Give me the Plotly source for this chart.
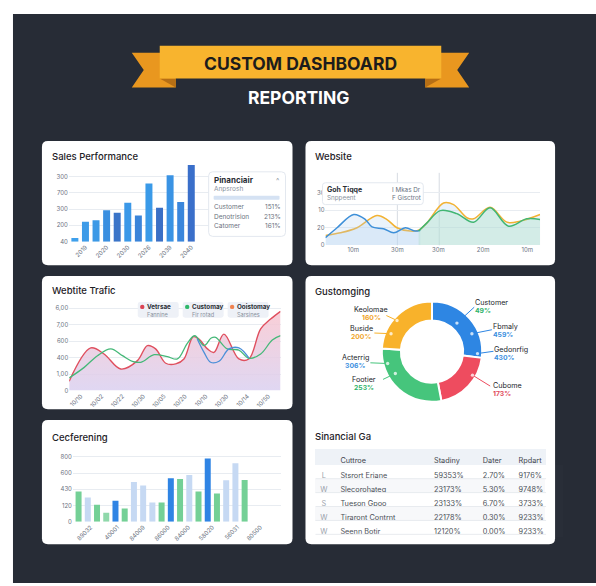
import plotly.graph_objects as go

W, H = 596, 586
FONT = "Inter, 'Liberation Sans', Arial, sans-serif"

# ======================= DATA =======================
# --- Sales Performance (bars) ---
sales_idx = list(range(12))
sales_values = [44, 244, 263, 385, 354, 479, 321, 715, 418, 817, 488, 943]
sales_xtick_idx = [1, 3, 5, 7, 9, 11]
sales_xtick_labels = ["2019", "2020", "2030", "2026", "2039", "2040"]
sales_ytick_vals = [0, 200, 400, 600, 800]
sales_ytick_labels = ["40", "200", "300", "700", "300"]

fin_title = "Pinanciair"
fin_subtitle = "Anpsrosh"
fin_rows = ["Customer", "Denotrision", "Catomer"]
fin_values = ["151%", "213%", "161%"]

# --- Website (lines) ---
web_blue_x = [0, 5.4, 13.2, 18.6, 21.7, 27.1, 31.8, 37.2, 41.9, 44.2]
web_blue_y = [4.2, 9.9, 17.5, 14.6, 10.4, 9.3, 7.0, 9.9, 8.0, 8.5]
web_orange_x = [0, 7, 14.7, 24, 28.7, 33.3, 39.5, 43.4, 47.3, 55, 59.7, 65.9, 69, 76.7, 84.5, 90.7, 100]
web_orange_y = [5.5, 7.0, 9.9, 16.9, 14.6, 9.9, 8.0, 8.5, 12.7, 24.1, 23.1, 15.6, 15.0, 21.6, 13.1, 13.7, 17.5]
web_green_x = [43.4, 47.3, 53.5, 61.2, 69.0, 76.7, 85.3, 93.8, 100]
web_green_y = [8.0, 12.7, 19.7, 18.0, 13.1, 21.3, 10.8, 15.0, 14.6]
web_marker_x = [33.5, 53.0]
web_xtick_vals = [13, 33.5, 52.6, 73.5, 94]
web_xtick_labels = ["10m", "30m", "30m", "20m", "10m"]
web_ytick_vals = [0, 10, 20, 30]
web_ytick_labels = ["0", "20", "10", "30"]
tip_left = ["Goh Tiqqe", "Snppeent"]
tip_right = ["I Mkas Dr", "F Gisctrot"]

# --- Website Traffic (lines) ---
trf_red_x = [0, 10.2, 16.5, 24.4, 32.3, 37, 40.9, 45.7, 50.4, 54.3, 58.7, 61.4, 65.4, 68.5, 73.2, 80.3, 85, 90.6, 95.3, 100]
trf_red_y = [57, 259, 222, 131, 182, 273, 253, 166, 162, 192, 327, 313, 253, 232, 343, 192, 192, 374, 434, 481]
trf_green_x = [0, 7.1, 13.4, 19.7, 25.2, 29.9, 33.9, 40.2, 46.5, 51.2, 55.9, 59.4, 63.8, 67.2, 69.3, 74.8, 80.3, 85, 90.6, 96.1, 100]
trf_green_y = [77, 141, 212, 253, 212, 178, 172, 218, 206, 192, 287, 333, 273, 319, 323, 253, 246, 196, 222, 307, 333]
trf_blue_x = [60.6, 63.8, 66.9, 70.9, 75.6, 80.3, 85]
trf_blue_y = [313, 232, 172, 178, 253, 259, 198]
trf_xtick_vals = [5.5, 15.4, 25.2, 35.1, 44.9, 54.8, 64.6, 74.5, 84.3, 94.2]
trf_xtick_labels = ["10/10", "10/02", "10/22", "10/30", "10/05", "10/20", "10/10", "10/30", "10/14", "10/50"]
trf_ytick_vals = [0, 100, 200, 300, 400, 500]
trf_ytick_labels = ["0", "1,00", "400", "600", "7,00", "6,00"]
trf_legend_names = ["Vetrsae", "Customay", "Ooistomay"]
trf_legend_subs = ["Fannine", "Fir rotad", "Sarsines"]

# --- Gustomging (donut) ---
donut_slices = ["Customer", "Cubome", "Footier", "Keolomae"]
donut_values = [27, 20, 29, 24]
callout_names = ["Customer", "Fbmaly", "Gedonrfig", "Cubome", "Keolomae", "Buside", "Acterrig", "Footier"]
callout_pcts = ["49%", "459%", "430%", "173%", "160%", "200%", "306%", "253%"]

# --- Geoferening (bars) ---
geo_idx = list(range(19))
geo_values = [371, 298, 208, 110, 257, 163, 490, 445, 237, 237, 535, 527, 576, 371, 780, 347, 510, 722, 514]
geo_xtick_vals = [1.3, 4.2, 7.0, 9.7, 11.9, 14.5, 17.2, 19.7]
geo_xtick_labels = ["89032", "40001", "84009", "86000", "84000", "58020", "56031", "80500"]
geo_ytick_vals = [0, 200, 400, 600, 800]
geo_ytick_labels = ["0", "120", "430", "600", "800"]

# --- Sinancial Ga (table) ---
tbl_header = ["", "Cuttroe", "Stadiny", "Dater", "Rpdart"]
tbl_icon = ["L", "W", "S", "W", "W"]
tbl_name = ["Stsrort Eriane", "Slecorohateg", "Tueson Gpoo", "Tiraront Contrnt", "Seenn Botir"]
tbl_stadiny = ["59353%", "23173%", "23133%", "22178%", "12120%"]
tbl_dater = ["2.70%", "5.30%", "6.70%", "0.30%", "0.00%"]
tbl_rpdart = ["9176%", "9748%", "3733%", "9233%", "9233%"]

# ======================= STYLES =======================
BG = "#272c36"
sales_colors = ["#3fa0ec", "#3d9be8", "#3c99e6", "#3a8fe0", "#3a74c8", "#3b98e8",
                "#3a84d9", "#3a9ae8", "#3a6fc5", "#3a93e4", "#3a86dc", "#3a6fca"]
G, LB, B = "#74d096", "#c6d9f3", "#2f84e4"
geo_colors = [G, LB, G, "#8fd8aa", B, G, LB, LB, LB, G, B, G, LB, G, B, G, LB, LB, G]
donut_colors = ["#2e86e3", "#ee4c5f", "#46c57c", "#f8b22b"]
callout_colors = ["#2fb36a", "#3b8fe0", "#3b8fe0", "#e0485a", "#f0a62a", "#f0a62a", "#3b8fe0", "#2fb36a"]
line_colors = ["#2e86e3", "#2e86e3", "#2e86e3", "#ee4c5f", "#f8b22b", "#f8b22b", "#46c57c", "#46c57c"]
trf_legend_colors = ["#dc4454", "#2fb86a", "#f0824f"]


def px(x):
    return x / W


def py(y):
    return 1 - y / H


def pt(x, y):
    return f"{px(x):.5f},{py(y):.5f}"


def rrect_path(x0, y0, x1, y1, r):
    return (f"M{pt(x0 + r, y0)} L{pt(x1 - r, y0)} Q{pt(x1, y0)} {pt(x1, y0 + r)} "
            f"L{pt(x1, y1 - r)} Q{pt(x1, y1)} {pt(x1 - r, y1)} L{pt(x0 + r, y1)} "
            f"Q{pt(x0, y1)} {pt(x0, y1 - r)} L{pt(x0, y0 + r)} Q{pt(x0, y0)} {pt(x0 + r, y0)} Z")


def poly_path(points):
    return "M" + " L".join(pt(x, y) for x, y in points) + " Z"


shapes = []
annotations = []


def add_path(path, fill, line=None, layer="below", lw=1.0):
    shapes.append(dict(type="path", xref="paper", yref="paper", path=path, fillcolor=fill,
                       line=dict(color=line if line else "rgba(0,0,0,0)", width=lw if line else 0),
                       layer=layer))


def add_line(x0, y0, x1, y1, color, width=1.0, layer="above"):
    shapes.append(dict(type="line", xref="paper", yref="paper", x0=px(x0), y0=py(y0), x1=px(x1), y1=py(y1),
                       line=dict(color=color, width=width), layer=layer))


def add_circle(cx, cy, r, fill, layer="above"):
    shapes.append(dict(type="circle", xref="paper", yref="paper", x0=px(cx - r), x1=px(cx + r),
                       y0=py(cy + r), y1=py(cy - r), fillcolor=fill, line=dict(width=0), layer=layer))


def text(x, y, s, size, color, xanchor="left", bold=False, weight=None):
    f = dict(size=size, color=color, family=FONT)
    if weight:
        f["weight"] = weight
    annotations.append(dict(x=px(x), y=py(y), xref="paper", yref="paper",
                            text=f"<b>{s}</b>" if bold else s, showarrow=False,
                            xanchor=xanchor, yanchor="middle", borderpad=0, borderwidth=0,
                            font=f))


# ---- background ----
shapes.append(dict(type="rect", xref="paper", yref="paper", x0=px(12), x1=1, y0=0, y1=py(13),
                   fillcolor=BG, line=dict(width=0), layer="below"))

# ---- ribbon banner ----
for s in (1, -1):
    def mx(x):
        return x if s == 1 else 600 - x
    add_path(poly_path([(mx(131), 52), (mx(175), 52), (mx(175), 87), (mx(131), 87), (mx(143), 69.5)]), "#e9971f")
    add_path(poly_path([(mx(159), 78), (mx(175), 78), (mx(175), 87)]), "#b66f15")
add_path(poly_path([(159, 45), (441, 45), (441, 78), (159, 78)]), "#f8b42e")
text(300, 62.5, "CUSTOM DASHBOARD", 17.5, "#1c1c1c", "center", True)
text(299, 97, "REPORTING", 17.5, "#ffffff", "center", True)

# ---- cards ----
for (x0, y0, x1, y1) in [(41, 141, 292, 266), (305, 141, 555, 266), (41, 277, 292, 411),
                         (305, 277, 555, 547), (41, 422, 292, 547)]:
    add_path(rrect_path(x0, y0, x1, y1, 6), "#ffffff")

TITLE_C = "#1e2126"
for s, x, y in [("Sales Performance", 51, 157), ("Website", 315, 157), ("Webtite Trafic", 51, 291),
                ("Gustomging", 315, 292), ("Cecferening", 51, 439), ("Sinancial Ga", 315, 438)]:
    text(x, y, s, 9.5, TITLE_C, weight=500)

# ---- sales legend box ----
add_path(rrect_path(208, 172, 285, 237, 4), "#ffffff", "#e3e8ef", "above", 1)
add_path(rrect_path(213, 196, 279, 200, 1), "#d5e2f3", None, "above")
text(213, 180, fin_title, 8, "#2a2e35", bold=True)
text(279, 181, "^", 7, "#8a93a0", "right")
text(213, 189, fin_subtitle, 6.5, "#8a93a0")
for i, (r, v) in enumerate(zip(fin_rows, fin_values)):
    text(213, 207.7 + 9.5 * i, r, 6.5, "#6b7280")
    text(280, 207.7 + 9.5 * i, v, 6.5, "#6b7280", "right")

# ---- website tooltip ----
add_path(rrect_path(322, 183, 423, 205, 3), "#ffffff", "#e3e8ef", "above", 1)
text(327, 190, tip_left[0], 7, "#2a2e35", bold=True)
text(327, 198.5, tip_left[1], 6.3, "#8a93a0")
text(392, 190, tip_right[0], 6.3, "#6b7280")
text(392, 198.5, tip_right[1], 6.3, "#6b7280")
for xv in web_marker_x:
    shapes.append(dict(type="line", xref="x2", yref="paper", x0=xv, x1=xv, y0=py(246), y1=py(173),
                       line=dict(color="#d6dbe2", width=1), layer="below"))

# ---- traffic legend chips ----
for i, (nm, sb, c) in enumerate(zip(trf_legend_names, trf_legend_subs, trf_legend_colors)):
    x0 = 137 + 45 * i
    add_path(rrect_path(x0, 303, x0 + 41, 319, 2.5), "#eef1f7", None, "above")
    add_circle(x0 + 4.5, 308, 2.2, c)
    text(x0 + 9, 308, nm, 6.3, "#2a2e35", bold=True)
    text(x0 + 9, 315.5, sb, 5.6, "#8a93a0")

# ---- donut callouts ----
callout_xy = [(475, 303.3, 311.7, "left"), (492.7, 327.3, 335.7, "left"), (494, 351, 359, "left"),
              (492.7, 386.7, 395, "left"), (370.7, 310.7, 318.3, "center"), (360.7, 330, 338.3, "center"),
              (355, 359, 367.3, "center"), (363.3, 381, 389.3, "center")]
callout_lines = [((456.7, 324.3), (474, 308.3)), ((471.7, 335), (491.7, 331)), ((477.3, 355), (493.3, 352.7)),
                 ((472.3, 376.7), (490, 387.7)), ((396.7, 321.7), (386, 316.7)), ((390.7, 335), (374, 334.3)),
                 ((387.3, 365), (370, 364.3)), ((395, 375), (382.7, 381))]
for (nm, pc, pcol, lcol, (x, y1, y2, anc), (a, b)) in zip(callout_names, callout_pcts, callout_colors,
                                                          line_colors, callout_xy, callout_lines):
    add_line(a[0], a[1], b[0], b[1], lcol, 1)
    add_circle(a[0], a[1], 1.7, "rgba(255,255,255,0.75)")
    text(x, y1, nm, 7.2, "#23262b", anc)
    text(x, y2, pc, 6.8, pcol, anc, True)

# ---- table separators ----
for yy in [481, 495, 509, 523, 537]:
    add_line(315, yy, 546, yy, "#e8ebef", 1)

# ======================= TRACES =======================
traces = []
traces.append(go.Bar(x=sales_idx, y=sales_values, marker=dict(color=sales_colors, line=dict(width=0)),
                     width=0.66, xaxis="x", yaxis="y", hoverinfo="skip"))

traces.append(go.Scatter(x=web_orange_x, y=web_orange_y, mode="lines", xaxis="x2", yaxis="y2",
                         line=dict(color="#f2b233", width=1.5, shape="spline", smoothing=1),
                         fill="tozeroy", fillcolor="rgba(196,220,244,0.35)", hoverinfo="skip"))
traces.append(go.Scatter(x=web_blue_x, y=web_blue_y, mode="lines", xaxis="x2", yaxis="y2",
                         line=dict(color="#3d8fd8", width=1.5, shape="spline", smoothing=1),
                         fill="tozeroy", fillcolor="rgba(170,205,240,0.25)", hoverinfo="skip"))
traces.append(go.Scatter(x=web_green_x, y=web_green_y, mode="lines", xaxis="x2", yaxis="y2",
                         line=dict(color="#41b673", width=1.5, shape="spline", smoothing=1),
                         fill="tozeroy", fillcolor="rgba(160,222,186,0.30)", hoverinfo="skip"))

traces.append(go.Scatter(x=trf_red_x, y=trf_red_y, mode="lines", xaxis="x3", yaxis="y3",
                         line=dict(color="#df4f5e", width=1.4, shape="spline", smoothing=1),
                         fill="tozeroy",
                         fillgradient=dict(type="vertical",
                                           colorscale=[[0, "rgba(218,208,240,0.85)"],
                                                       [1, "rgba(248,198,208,0.85)"]]),
                         hoverinfo="skip"))
traces.append(go.Scatter(x=trf_green_x, y=trf_green_y, mode="lines", xaxis="x3", yaxis="y3",
                         line=dict(color="#45b878", width=1.3, shape="spline", smoothing=1), hoverinfo="skip"))
traces.append(go.Scatter(x=trf_blue_x, y=trf_blue_y, mode="lines", xaxis="x3", yaxis="y3",
                         line=dict(color="#4b8fd8", width=1.3, shape="spline", smoothing=1), hoverinfo="skip"))

traces.append(go.Bar(x=geo_idx, y=geo_values, marker=dict(color=geo_colors, line=dict(width=0)),
                     width=0.65, xaxis="x4", yaxis="y4", hoverinfo="skip"))

traces.append(go.Pie(labels=donut_slices, values=donut_values, hole=0.62, sort=False, direction="clockwise",
                     rotation=0, textinfo="none", hoverinfo="skip",
                     marker=dict(colors=donut_colors, line=dict(color="#ffffff", width=2)),
                     domain=dict(x=[px(381.2), px(482.2)], y=[py(403.5), py(302.5)])))

row_fill = ["#ffffff", "#f7f8fa", "#ffffff", "#f7f8fa", "#ffffff"]
traces.append(go.Table(
    domain=dict(x=[px(315), px(546)], y=[py(540), py(452)]),
    columnwidth=[17, 94, 49, 36, 35],
    header=dict(values=tbl_header, fill_color="#eef2f7", line=dict(color="#eef2f7", width=1),
                font=dict(size=7.3, color="#3f444c", family=FONT), height=15,
                align=["center", "left", "left", "left", "left"]),
    cells=dict(values=[tbl_icon, tbl_name, tbl_stadiny, tbl_dater, tbl_rpdart],
               fill_color=[row_fill] * 5, line=dict(color="rgba(0,0,0,0)", width=0),
               font=dict(size=7.3, color=["#9aa1ab", "#4a4f57", "#4a4f57", "#4a4f57", "#4a4f57"], family=FONT),
               height=14, align=["center", "left", "left", "left", "left"])))

fig = go.Figure(traces)

TICKF = dict(size=6, color="#6b7280", family=FONT)


def xax(d0, d1, rng, vals, labels, angle, anchor):
    return dict(domain=[px(d0), px(d1)], range=rng, anchor=anchor, tickvals=vals, ticktext=labels,
                tickangle=angle, showgrid=False, zeroline=False, showline=False, ticks="",
                tickfont=TICKF, fixedrange=True)


def yax(top, bottom, rng, vals, labels, anchor):
    return dict(domain=[py(bottom), py(top)], range=rng, anchor=anchor, tickvals=vals, ticktext=labels,
                showgrid=True, gridcolor="#e8ecf1", gridwidth=1, zeroline=False, showline=False,
                ticks="", tickfont=TICKF, fixedrange=True)


fig.update_layout(
    width=W, height=H, autosize=False, margin=dict(l=0, r=0, t=0, b=0),
    paper_bgcolor="#ffffff", plot_bgcolor="rgba(0,0,0,0)", showlegend=False,
    font=dict(family=FONT),
    xaxis=xax(68, 281, [-0.566, 19.53], sales_xtick_idx, sales_xtick_labels, -45, "y"),
    yaxis=yax(162, 242.3, [0, 980], sales_ytick_vals, sales_ytick_labels, "x"),
    xaxis2=xax(325, 540, [0, 100], web_xtick_vals, web_xtick_labels, 0, "y2"),
    yaxis2=yax(175.4, 245.7, [0, 40], web_ytick_vals, web_ytick_labels, "x2"),
    xaxis3=xax(68.3, 280, [0, 100], trf_xtick_vals, trf_xtick_labels, -45, "y3"),
    yaxis3=yax(306, 392.3, [0, 520], trf_ytick_vals, trf_ytick_labels, "x3"),
    xaxis4=xax(72, 280, [-0.617, 21.89], geo_xtick_vals, geo_xtick_labels, -45, "y4"),
    yaxis4=yax(456.5, 524.3, [0, 830], geo_ytick_vals, geo_ytick_labels, "x4"),
    shapes=shapes, annotations=annotations,
)

fig.write_html("out.html")
